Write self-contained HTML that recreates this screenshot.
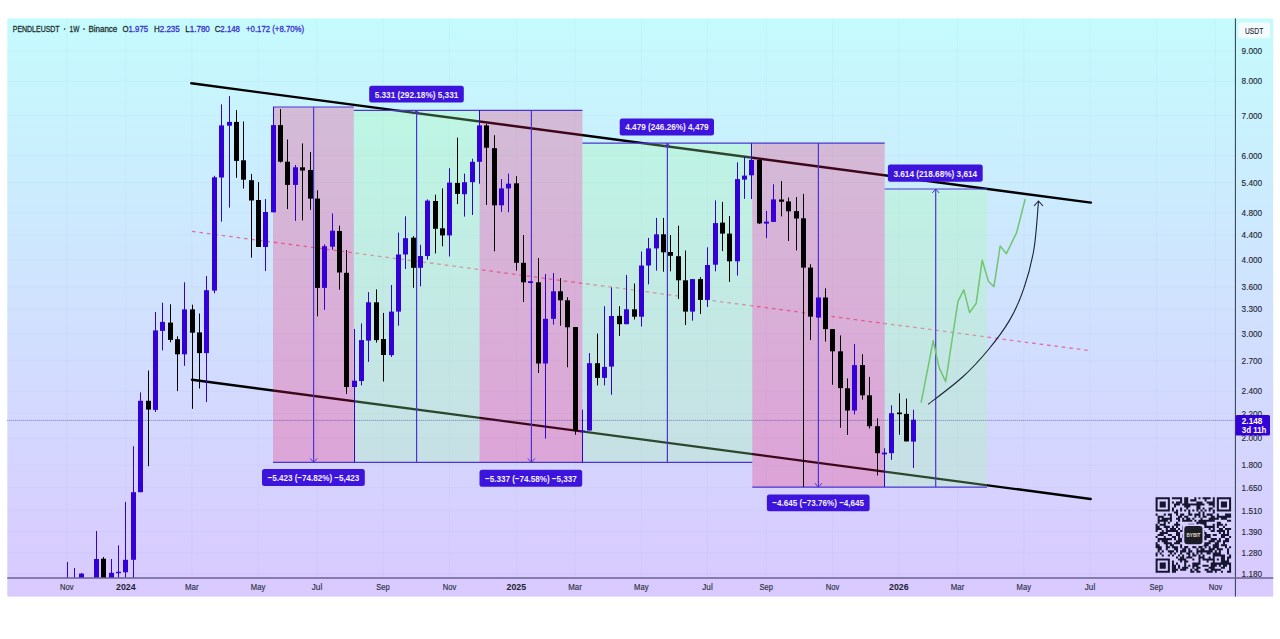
<!DOCTYPE html><html><head><meta charset="utf-8"><style>
html,body{margin:0;padding:0;background:#fff;width:1280px;height:639px;overflow:hidden}
svg{position:absolute;left:0;top:0;display:block}
text{font-family:"Liberation Sans",sans-serif}
</style></head><body>
<svg width="1280" height="639" viewBox="0 0 1280 639">
<defs><linearGradient id="bg" gradientUnits="userSpaceOnUse" x1="0" y1="18" x2="0" y2="597"><stop offset="0" stop-color="rgb(197,251,253)"/><stop offset="0.49" stop-color="rgb(208,226,254)"/><stop offset="1" stop-color="rgb(217,201,255)"/></linearGradient></defs>
<rect x="7.3" y="18.4" width="1265.9" height="578.2" fill="url(#bg)"/>
<path d="M66.8 18.4V578.0M125.8 18.4V578.0M191.8 18.4V578.0M258.0 18.4V578.0M317.0 18.4V578.0M383.0 18.4V578.0M449.5 18.4V578.0M516.3 18.4V578.0M575.0 18.4V578.0M641.3 18.4V578.0M707.5 18.4V578.0M766.3 18.4V578.0M832.5 18.4V578.0M898.8 18.4V578.0M957.5 18.4V578.0M1023.8 18.4V578.0M1090.0 18.4V578.0M1156.3 18.4V578.0M1215.5 18.4V578.0M7.3 51.0H1235.4M7.3 81.3H1235.4M7.3 115.7H1235.4M7.3 155.4H1235.4M7.3 182.5H1235.4M7.3 212.8H1235.4M7.3 235.2H1235.4M7.3 259.7H1235.4M7.3 286.9H1235.4M7.3 309.2H1235.4M7.3 333.8H1235.4M7.3 360.9H1235.4M7.3 391.2H1235.4M7.3 413.6H1235.4M7.3 438.1H1235.4M7.3 465.3H1235.4M7.3 487.7H1235.4M7.3 510.5H1235.4M7.3 531.8H1235.4M7.3 553.0H1235.4M7.3 574.0H1235.4" stroke="rgba(60,80,140,0.035)" stroke-width="1" fill="none"/>
<g stroke="#000" stroke-width="2.4" stroke-linecap="round">
<line x1="191.3" y1="83.3" x2="1090.9" y2="202.6"/>
<line x1="192" y1="379.7" x2="1090.7" y2="499"/>
</g>
<line x1="192" y1="231.4" x2="1090.5" y2="350.8" stroke="#e2729c" stroke-width="1.3" stroke-dasharray="3.6 3.9"/>
<rect x="273.0" y="107.0" width="80.8" height="355.4" fill="rgba(243,22,100,0.25)"/>
<rect x="353.8" y="110.3" width="125.8" height="352.1" fill="rgba(160,255,160,0.28)"/>
<rect x="479.6" y="110.3" width="102.8" height="352.1" fill="rgba(243,22,100,0.25)"/>
<rect x="582.4" y="143.1" width="169.9" height="319.3" fill="rgba(160,255,160,0.28)"/>
<rect x="752.3" y="143.1" width="132.4" height="344.1" fill="rgba(243,22,100,0.25)"/>
<rect x="884.7" y="189.0" width="102.3" height="298.2" fill="rgba(160,255,160,0.28)"/>
<path d="M273.0 107.0H353.8M273.0 462.4H353.8M313.6 107.0V462.4M353.8 110.3H479.6M353.8 462.4H479.6M416.6 110.3V462.4M479.6 110.3H582.4M479.6 462.4H582.4M531.4 110.3V462.4M582.4 143.1H752.3M582.4 462.4H752.3M667.4 143.1V462.4M752.3 143.1H884.7M752.3 487.2H884.7M818.4 143.1V487.2M884.7 189.0H987.0M884.7 487.2H987.0M935.7 189.0V487.2" stroke="#4c34d4" stroke-width="1.2" fill="none"/>
<path d="M310.1 458.4L313.6 462.4L317.1 458.4M413.1 114.3L416.6 110.3L420.1 114.3M527.9 458.4L531.4 462.4L534.9 458.4M663.9 147.1L667.4 143.1L670.9 147.1M814.9 483.2L818.4 487.2L821.9 483.2M932.2 193.0L935.7 189.0L939.2 193.0" stroke="#4c34d4" stroke-width="1" fill="none"/>
<line x1="7.3" y1="420.4" x2="1235.4" y2="420.4" stroke="rgba(60,55,150,0.6)" stroke-width="1" stroke-dasharray="1 1"/>
<rect x="67" y="562.0" width="1" height="16.0" fill="#3300d6"/>
<rect x="74" y="568.0" width="1" height="10.0" fill="#3300d6"/>
<rect x="81" y="573.0" width="1" height="5.0" fill="#3300d6"/>
<rect x="79" y="573.6" width="5" height="4.4" fill="#3300d6"/>
<rect x="96" y="531.0" width="1" height="47.0" fill="#3300d6"/>
<rect x="94" y="559.0" width="5" height="19.0" fill="#3300d6"/>
<rect x="103" y="557.0" width="1" height="21.0" fill="#000000"/>
<rect x="101" y="558.7" width="5" height="19.3" fill="#000000"/>
<rect x="111" y="559.0" width="1" height="19.0" fill="#3300d6"/>
<rect x="109" y="572.8" width="5" height="5.2" fill="#3300d6"/>
<rect x="118" y="545.4" width="1" height="32.6" fill="#3300d6"/>
<rect x="116" y="571.8" width="5" height="1.4" fill="#3300d6"/>
<rect x="125" y="501.9" width="1" height="76.1" fill="#3300d6"/>
<rect x="123" y="559.8" width="5" height="12.5" fill="#3300d6"/>
<rect x="133" y="446.2" width="1" height="131.8" fill="#3300d6"/>
<rect x="131" y="492.2" width="5" height="67.6" fill="#3300d6"/>
<rect x="140" y="392.4" width="1" height="99.8" fill="#3300d6"/>
<rect x="138" y="400.8" width="5" height="91.4" fill="#3300d6"/>
<rect x="148" y="370.5" width="1" height="95.7" fill="#000000"/>
<rect x="146" y="400.8" width="5" height="8.8" fill="#000000"/>
<rect x="155" y="312.0" width="1" height="100.0" fill="#3300d6"/>
<rect x="153" y="330.4" width="5" height="79.5" fill="#3300d6"/>
<rect x="162" y="302.7" width="1" height="47.7" fill="#3300d6"/>
<rect x="160" y="321.9" width="5" height="9.0" fill="#3300d6"/>
<rect x="170" y="304.3" width="1" height="38.0" fill="#000000"/>
<rect x="168" y="322.6" width="5" height="17.3" fill="#000000"/>
<rect x="177" y="336.3" width="1" height="54.8" fill="#000000"/>
<rect x="175" y="339.2" width="5" height="15.1" fill="#000000"/>
<rect x="184" y="282.3" width="1" height="83.5" fill="#3300d6"/>
<rect x="182" y="309.4" width="5" height="44.9" fill="#3300d6"/>
<rect x="192" y="304.7" width="1" height="104.1" fill="#000000"/>
<rect x="190" y="309.4" width="5" height="23.3" fill="#000000"/>
<rect x="199" y="313.6" width="1" height="74.9" fill="#000000"/>
<rect x="197" y="332.4" width="5" height="20.7" fill="#000000"/>
<rect x="206" y="276.0" width="1" height="126.0" fill="#3300d6"/>
<rect x="204" y="290.2" width="5" height="62.9" fill="#3300d6"/>
<rect x="214" y="175.8" width="1" height="117.5" fill="#3300d6"/>
<rect x="212" y="177.3" width="5" height="113.3" fill="#3300d6"/>
<rect x="221" y="104.3" width="1" height="117.3" fill="#3300d6"/>
<rect x="219" y="125.4" width="5" height="52.1" fill="#3300d6"/>
<rect x="229" y="96.1" width="1" height="111.5" fill="#3300d6"/>
<rect x="227" y="121.9" width="5" height="3.8" fill="#3300d6"/>
<rect x="236" y="110.0" width="1" height="67.8" fill="#000000"/>
<rect x="234" y="121.9" width="5" height="39.0" fill="#000000"/>
<rect x="243" y="121.5" width="1" height="67.0" fill="#000000"/>
<rect x="241" y="160.3" width="5" height="19.4" fill="#000000"/>
<rect x="251" y="173.9" width="1" height="83.7" fill="#000000"/>
<rect x="249" y="180.2" width="5" height="20.3" fill="#000000"/>
<rect x="258" y="182.2" width="1" height="64.8" fill="#000000"/>
<rect x="256" y="200.0" width="5" height="47.0" fill="#000000"/>
<rect x="265" y="199.0" width="1" height="72.0" fill="#3300d6"/>
<rect x="263" y="212.0" width="5" height="35.0" fill="#3300d6"/>
<rect x="273" y="107.0" width="1" height="105.3" fill="#3300d6"/>
<rect x="271" y="125.1" width="5" height="87.2" fill="#3300d6"/>
<rect x="280" y="109.0" width="1" height="53.5" fill="#000000"/>
<rect x="278" y="125.1" width="5" height="36.6" fill="#000000"/>
<rect x="287" y="139.5" width="1" height="69.6" fill="#000000"/>
<rect x="285" y="161.7" width="5" height="23.2" fill="#000000"/>
<rect x="295" y="165.0" width="1" height="55.9" fill="#3300d6"/>
<rect x="293" y="167.3" width="5" height="17.6" fill="#3300d6"/>
<rect x="302" y="143.4" width="1" height="77.0" fill="#000000"/>
<rect x="300" y="167.3" width="5" height="3.2" fill="#000000"/>
<rect x="310" y="152.0" width="1" height="57.9" fill="#000000"/>
<rect x="308" y="170.0" width="5" height="28.6" fill="#000000"/>
<rect x="317" y="190.3" width="1" height="126.0" fill="#000000"/>
<rect x="315" y="198.6" width="5" height="89.3" fill="#000000"/>
<rect x="324" y="244.3" width="1" height="65.5" fill="#3300d6"/>
<rect x="322" y="246.2" width="5" height="41.7" fill="#3300d6"/>
<rect x="332" y="213.5" width="1" height="36.3" fill="#3300d6"/>
<rect x="330" y="230.7" width="5" height="16.0" fill="#3300d6"/>
<rect x="339" y="225.6" width="1" height="64.1" fill="#000000"/>
<rect x="337" y="231.0" width="5" height="41.5" fill="#000000"/>
<rect x="346" y="250.1" width="1" height="143.9" fill="#000000"/>
<rect x="344" y="272.8" width="5" height="114.2" fill="#000000"/>
<rect x="354" y="328.9" width="1" height="133.5" fill="#3300d6"/>
<rect x="352" y="380.7" width="5" height="6.3" fill="#3300d6"/>
<rect x="361" y="323.4" width="1" height="62.0" fill="#3300d6"/>
<rect x="359" y="340.1" width="5" height="40.9" fill="#3300d6"/>
<rect x="368" y="292.1" width="1" height="69.8" fill="#3300d6"/>
<rect x="366" y="302.3" width="5" height="38.3" fill="#3300d6"/>
<rect x="376" y="289.4" width="1" height="53.2" fill="#000000"/>
<rect x="374" y="302.3" width="5" height="37.8" fill="#000000"/>
<rect x="383" y="312.9" width="1" height="68.6" fill="#000000"/>
<rect x="381" y="339.0" width="5" height="16.0" fill="#000000"/>
<rect x="391" y="285.0" width="1" height="72.0" fill="#3300d6"/>
<rect x="389" y="311.6" width="5" height="43.5" fill="#3300d6"/>
<rect x="398" y="232.6" width="1" height="93.1" fill="#3300d6"/>
<rect x="396" y="254.5" width="5" height="57.1" fill="#3300d6"/>
<rect x="405" y="216.3" width="1" height="52.7" fill="#3300d6"/>
<rect x="403" y="238.2" width="5" height="16.3" fill="#3300d6"/>
<rect x="413" y="236.2" width="1" height="51.6" fill="#000000"/>
<rect x="411" y="237.7" width="5" height="30.1" fill="#000000"/>
<rect x="420" y="244.8" width="1" height="41.5" fill="#3300d6"/>
<rect x="418" y="256.0" width="5" height="11.8" fill="#3300d6"/>
<rect x="427" y="199.4" width="1" height="60.2" fill="#3300d6"/>
<rect x="425" y="200.6" width="5" height="55.4" fill="#3300d6"/>
<rect x="435" y="194.7" width="1" height="58.7" fill="#000000"/>
<rect x="433" y="201.0" width="5" height="27.8" fill="#000000"/>
<rect x="442" y="188.4" width="1" height="57.9" fill="#000000"/>
<rect x="440" y="228.3" width="5" height="7.1" fill="#000000"/>
<rect x="449" y="168.1" width="1" height="88.4" fill="#3300d6"/>
<rect x="447" y="182.6" width="5" height="52.8" fill="#3300d6"/>
<rect x="457" y="137.6" width="1" height="66.5" fill="#000000"/>
<rect x="455" y="182.9" width="5" height="11.0" fill="#000000"/>
<rect x="464" y="173.6" width="1" height="43.0" fill="#3300d6"/>
<rect x="462" y="182.2" width="5" height="12.0" fill="#3300d6"/>
<rect x="472" y="158.7" width="1" height="56.3" fill="#3300d6"/>
<rect x="470" y="161.8" width="5" height="20.4" fill="#3300d6"/>
<rect x="479" y="110.3" width="1" height="73.4" fill="#3300d6"/>
<rect x="477" y="125.4" width="5" height="36.4" fill="#3300d6"/>
<rect x="486" y="124.0" width="1" height="80.9" fill="#000000"/>
<rect x="484" y="125.4" width="5" height="22.3" fill="#000000"/>
<rect x="494" y="135.2" width="1" height="116.1" fill="#000000"/>
<rect x="492" y="148.2" width="5" height="57.1" fill="#000000"/>
<rect x="501" y="179.0" width="1" height="32.9" fill="#3300d6"/>
<rect x="499" y="188.4" width="5" height="16.9" fill="#3300d6"/>
<rect x="508" y="173.6" width="1" height="38.6" fill="#3300d6"/>
<rect x="506" y="183.7" width="5" height="4.7" fill="#3300d6"/>
<rect x="516" y="176.2" width="1" height="94.4" fill="#000000"/>
<rect x="514" y="183.3" width="5" height="79.5" fill="#000000"/>
<rect x="523" y="235.1" width="1" height="66.8" fill="#000000"/>
<rect x="521" y="262.8" width="5" height="19.5" fill="#000000"/>
<rect x="530" y="281.3" width="1" height="1.7" fill="#3300d6"/>
<rect x="528" y="281.3" width="5" height="1.7" fill="#3300d6"/>
<rect x="538" y="258.1" width="1" height="114.8" fill="#000000"/>
<rect x="536" y="282.3" width="5" height="81.2" fill="#000000"/>
<rect x="545" y="274.0" width="1" height="164.6" fill="#3300d6"/>
<rect x="543" y="318.8" width="5" height="44.7" fill="#3300d6"/>
<rect x="553" y="273.0" width="1" height="51.6" fill="#3300d6"/>
<rect x="551" y="291.3" width="5" height="27.5" fill="#3300d6"/>
<rect x="560" y="278.0" width="1" height="47.7" fill="#000000"/>
<rect x="558" y="291.3" width="5" height="9.0" fill="#000000"/>
<rect x="567" y="297.2" width="1" height="70.1" fill="#000000"/>
<rect x="565" y="300.3" width="5" height="27.0" fill="#000000"/>
<rect x="575" y="327.0" width="1" height="107.7" fill="#000000"/>
<rect x="573" y="327.0" width="5" height="103.5" fill="#000000"/>
<rect x="582" y="409.6" width="1" height="53.0" fill="#3300d6"/>
<rect x="580" y="430.6" width="5" height="1.4" fill="#3300d6"/>
<rect x="589" y="353.1" width="1" height="77.4" fill="#3300d6"/>
<rect x="587" y="363.2" width="5" height="67.3" fill="#3300d6"/>
<rect x="597" y="333.6" width="1" height="51.8" fill="#000000"/>
<rect x="595" y="363.2" width="5" height="14.7" fill="#000000"/>
<rect x="604" y="306.2" width="1" height="79.2" fill="#3300d6"/>
<rect x="602" y="366.9" width="5" height="11.0" fill="#3300d6"/>
<rect x="611" y="287.4" width="1" height="107.4" fill="#3300d6"/>
<rect x="609" y="316.0" width="5" height="50.6" fill="#3300d6"/>
<rect x="619" y="306.2" width="1" height="29.7" fill="#000000"/>
<rect x="617" y="315.9" width="5" height="8.3" fill="#000000"/>
<rect x="626" y="274.9" width="1" height="49.3" fill="#3300d6"/>
<rect x="624" y="309.3" width="5" height="14.9" fill="#3300d6"/>
<rect x="634" y="283.5" width="1" height="36.0" fill="#000000"/>
<rect x="632" y="309.3" width="5" height="7.4" fill="#000000"/>
<rect x="641" y="251.5" width="1" height="75.0" fill="#3300d6"/>
<rect x="639" y="265.5" width="5" height="51.2" fill="#3300d6"/>
<rect x="648" y="237.9" width="1" height="46.4" fill="#3300d6"/>
<rect x="646" y="248.4" width="5" height="17.1" fill="#3300d6"/>
<rect x="656" y="217.9" width="1" height="52.7" fill="#3300d6"/>
<rect x="654" y="234.3" width="5" height="14.1" fill="#3300d6"/>
<rect x="663" y="217.9" width="1" height="53.8" fill="#000000"/>
<rect x="661" y="234.3" width="5" height="18.0" fill="#000000"/>
<rect x="670" y="235.1" width="1" height="36.2" fill="#000000"/>
<rect x="668" y="252.0" width="5" height="3.8" fill="#000000"/>
<rect x="678" y="225.7" width="1" height="73.4" fill="#000000"/>
<rect x="676" y="256.2" width="5" height="24.1" fill="#000000"/>
<rect x="685" y="250.5" width="1" height="74.5" fill="#000000"/>
<rect x="683" y="280.3" width="5" height="31.3" fill="#000000"/>
<rect x="692" y="279.1" width="1" height="41.6" fill="#3300d6"/>
<rect x="690" y="279.1" width="5" height="32.5" fill="#3300d6"/>
<rect x="700" y="277.2" width="1" height="36.8" fill="#000000"/>
<rect x="698" y="279.1" width="5" height="20.8" fill="#000000"/>
<rect x="707" y="247.3" width="1" height="59.7" fill="#3300d6"/>
<rect x="705" y="265.0" width="5" height="34.9" fill="#3300d6"/>
<rect x="715" y="200.4" width="1" height="70.9" fill="#3300d6"/>
<rect x="713" y="223.1" width="5" height="41.6" fill="#3300d6"/>
<rect x="722" y="201.9" width="1" height="49.2" fill="#000000"/>
<rect x="720" y="222.6" width="5" height="11.0" fill="#000000"/>
<rect x="729" y="216.0" width="1" height="65.9" fill="#000000"/>
<rect x="727" y="233.6" width="5" height="27.7" fill="#000000"/>
<rect x="737" y="162.3" width="1" height="113.3" fill="#3300d6"/>
<rect x="735" y="179.1" width="5" height="82.2" fill="#3300d6"/>
<rect x="744" y="156.8" width="1" height="42.0" fill="#3300d6"/>
<rect x="742" y="175.6" width="5" height="4.0" fill="#3300d6"/>
<rect x="751" y="143.1" width="1" height="56.0" fill="#3300d6"/>
<rect x="749" y="159.9" width="5" height="15.4" fill="#3300d6"/>
<rect x="759" y="159.0" width="1" height="65.0" fill="#000000"/>
<rect x="757" y="159.9" width="5" height="63.5" fill="#000000"/>
<rect x="766" y="210.9" width="1" height="27.3" fill="#3300d6"/>
<rect x="764" y="221.6" width="5" height="2.0" fill="#3300d6"/>
<rect x="773" y="184.2" width="1" height="37.7" fill="#3300d6"/>
<rect x="771" y="199.4" width="5" height="22.5" fill="#3300d6"/>
<rect x="781" y="181.0" width="1" height="35.4" fill="#000000"/>
<rect x="779" y="199.5" width="5" height="2.2" fill="#000000"/>
<rect x="788" y="197.5" width="1" height="43.5" fill="#000000"/>
<rect x="786" y="201.4" width="5" height="9.9" fill="#000000"/>
<rect x="796" y="197.0" width="1" height="53.4" fill="#000000"/>
<rect x="794" y="211.1" width="5" height="7.4" fill="#000000"/>
<rect x="803" y="193.9" width="1" height="293.1" fill="#000000"/>
<rect x="801" y="218.3" width="5" height="49.3" fill="#000000"/>
<rect x="810" y="264.2" width="1" height="75.9" fill="#000000"/>
<rect x="808" y="267.6" width="5" height="49.0" fill="#000000"/>
<rect x="818" y="297.5" width="1" height="20.1" fill="#3300d6"/>
<rect x="816" y="297.5" width="5" height="20.1" fill="#3300d6"/>
<rect x="825" y="288.4" width="1" height="53.2" fill="#000000"/>
<rect x="823" y="297.5" width="5" height="31.6" fill="#000000"/>
<rect x="832" y="329.0" width="1" height="55.7" fill="#000000"/>
<rect x="830" y="329.1" width="5" height="22.2" fill="#000000"/>
<rect x="840" y="335.4" width="1" height="92.3" fill="#000000"/>
<rect x="838" y="351.3" width="5" height="36.8" fill="#000000"/>
<rect x="847" y="378.4" width="1" height="56.4" fill="#000000"/>
<rect x="845" y="388.3" width="5" height="22.2" fill="#000000"/>
<rect x="854" y="344.0" width="1" height="70.4" fill="#3300d6"/>
<rect x="852" y="365.1" width="5" height="45.4" fill="#3300d6"/>
<rect x="862" y="354.2" width="1" height="45.4" fill="#000000"/>
<rect x="860" y="365.1" width="5" height="30.2" fill="#000000"/>
<rect x="869" y="376.9" width="1" height="51.6" fill="#000000"/>
<rect x="867" y="395.3" width="5" height="30.9" fill="#000000"/>
<rect x="877" y="418.3" width="1" height="57.2" fill="#000000"/>
<rect x="875" y="426.2" width="5" height="27.0" fill="#000000"/>
<rect x="884" y="448.2" width="1" height="38.8" fill="#3300d6"/>
<rect x="882" y="452.6" width="5" height="1.8" fill="#3300d6"/>
<rect x="891" y="405.2" width="1" height="54.7" fill="#3300d6"/>
<rect x="889" y="413.2" width="5" height="40.0" fill="#3300d6"/>
<rect x="899" y="393.3" width="1" height="41.4" fill="#000000"/>
<rect x="897" y="412.5" width="5" height="1.7" fill="#000000"/>
<rect x="906" y="398.6" width="1" height="42.8" fill="#000000"/>
<rect x="904" y="413.9" width="5" height="27.5" fill="#000000"/>
<rect x="913" y="409.8" width="1" height="58.2" fill="#3300d6"/>
<rect x="911" y="419.7" width="5" height="21.9" fill="#3300d6"/>
<polyline points="921.1,402.8 933.2,340.6 939.1,367.6 945.7,381.6 957.9,301.6 963.8,289.9 969.6,312.6 976.2,303.2 982.2,260.2 988.4,281.3 993.9,286.8 1000.2,245.9 1006.4,253.7 1016.6,232.6 1025.2,199" fill="none" stroke="#70c670" stroke-width="1.5" stroke-linejoin="round"/>
<path d="M928.2 404.3C933.9 399.8 952.6 386.1 962.6 377C972.6 367.9 980.7 358.9 988.5 349.5C996.3 340.1 1003.6 330.5 1009.5 320.4C1015.4 310.3 1019.6 300.8 1023.6 289.1C1027.7 277.4 1031.3 264.6 1033.8 250C1036.3 235.4 1037.7 209.6 1038.5 201.5" fill="none" stroke="#1a2233" stroke-width="1.1"/>
<path d="M1034 206L1038.5 201L1043 206" fill="none" stroke="#1a2233" stroke-width="1.1"/>
<rect x="262.0" y="469.1" width="102.8" height="17.0" rx="2.5" fill="#3c14dc"/>
<text x="313.4" y="481.0" text-anchor="middle" font-size="9.6" font-weight="bold" fill="#f4efff" textLength="91.8" lengthAdjust="spacingAndGlyphs">−5.423 (−74.82%) −5,423</text>
<rect x="369.2" y="85.8" width="94.6" height="16.7" rx="2.5" fill="#3c14dc"/>
<text x="416.5" y="97.6" text-anchor="middle" font-size="9.6" font-weight="bold" fill="#f4efff" textLength="83.6" lengthAdjust="spacingAndGlyphs">5.331 (292.18%) 5,331</text>
<rect x="479.5" y="469.7" width="102.7" height="17.0" rx="2.5" fill="#3c14dc"/>
<text x="530.9" y="481.6" text-anchor="middle" font-size="9.6" font-weight="bold" fill="#f4efff" textLength="91.7" lengthAdjust="spacingAndGlyphs">−5.337 (−74.58%) −5,337</text>
<rect x="619.7" y="118.4" width="94.3" height="17.1" rx="2.5" fill="#3c14dc"/>
<text x="666.9" y="130.3" text-anchor="middle" font-size="9.6" font-weight="bold" fill="#f4efff" textLength="83.3" lengthAdjust="spacingAndGlyphs">4.479 (246.26%) 4,479</text>
<rect x="766.9" y="494.5" width="102.7" height="16.7" rx="2.5" fill="#3c14dc"/>
<text x="818.2" y="506.2" text-anchor="middle" font-size="9.6" font-weight="bold" fill="#f4efff" textLength="91.7" lengthAdjust="spacingAndGlyphs">−4.645 (−73.76%) −4,645</text>
<rect x="887.9" y="164.5" width="94.8" height="17.3" rx="2.5" fill="#3c14dc"/>
<text x="935.3" y="176.6" text-anchor="middle" font-size="9.6" font-weight="bold" fill="#f4efff" textLength="83.8" lengthAdjust="spacingAndGlyphs">3.614 (218.68%) 3,614</text>
<path d="M1155.60 497.30h2.04v2.04h-2.04zM1157.64 497.30h2.04v2.04h-2.04zM1159.68 497.30h2.04v2.04h-2.04zM1161.72 497.30h2.04v2.04h-2.04zM1163.76 497.30h2.04v2.04h-2.04zM1165.80 497.30h2.04v2.04h-2.04zM1167.84 497.30h2.04v2.04h-2.04zM1171.92 497.30h2.04v2.04h-2.04zM1173.96 497.30h2.04v2.04h-2.04zM1176.01 497.30h2.04v2.04h-2.04zM1178.05 497.30h2.04v2.04h-2.04zM1180.09 497.30h2.04v2.04h-2.04zM1184.17 497.30h2.04v2.04h-2.04zM1186.21 497.30h2.04v2.04h-2.04zM1194.37 497.30h2.04v2.04h-2.04zM1198.45 497.30h2.04v2.04h-2.04zM1202.53 497.30h2.04v2.04h-2.04zM1204.57 497.30h2.04v2.04h-2.04zM1206.61 497.30h2.04v2.04h-2.04zM1208.65 497.30h2.04v2.04h-2.04zM1212.74 497.30h2.04v2.04h-2.04zM1216.82 497.30h2.04v2.04h-2.04zM1218.86 497.30h2.04v2.04h-2.04zM1220.90 497.30h2.04v2.04h-2.04zM1222.94 497.30h2.04v2.04h-2.04zM1224.98 497.30h2.04v2.04h-2.04zM1227.02 497.30h2.04v2.04h-2.04zM1229.06 497.30h2.04v2.04h-2.04zM1155.60 499.34h2.04v2.04h-2.04zM1167.84 499.34h2.04v2.04h-2.04zM1180.09 499.34h2.04v2.04h-2.04zM1184.17 499.34h2.04v2.04h-2.04zM1186.21 499.34h2.04v2.04h-2.04zM1190.29 499.34h2.04v2.04h-2.04zM1192.33 499.34h2.04v2.04h-2.04zM1194.37 499.34h2.04v2.04h-2.04zM1204.57 499.34h2.04v2.04h-2.04zM1212.74 499.34h2.04v2.04h-2.04zM1216.82 499.34h2.04v2.04h-2.04zM1229.06 499.34h2.04v2.04h-2.04zM1155.60 501.38h2.04v2.04h-2.04zM1159.68 501.38h2.04v2.04h-2.04zM1161.72 501.38h2.04v2.04h-2.04zM1163.76 501.38h2.04v2.04h-2.04zM1167.84 501.38h2.04v2.04h-2.04zM1171.92 501.38h2.04v2.04h-2.04zM1176.01 501.38h2.04v2.04h-2.04zM1178.05 501.38h2.04v2.04h-2.04zM1180.09 501.38h2.04v2.04h-2.04zM1184.17 501.38h2.04v2.04h-2.04zM1186.21 501.38h2.04v2.04h-2.04zM1196.41 501.38h2.04v2.04h-2.04zM1198.45 501.38h2.04v2.04h-2.04zM1200.49 501.38h2.04v2.04h-2.04zM1206.61 501.38h2.04v2.04h-2.04zM1208.65 501.38h2.04v2.04h-2.04zM1210.69 501.38h2.04v2.04h-2.04zM1212.74 501.38h2.04v2.04h-2.04zM1216.82 501.38h2.04v2.04h-2.04zM1220.90 501.38h2.04v2.04h-2.04zM1222.94 501.38h2.04v2.04h-2.04zM1224.98 501.38h2.04v2.04h-2.04zM1229.06 501.38h2.04v2.04h-2.04zM1155.60 503.42h2.04v2.04h-2.04zM1159.68 503.42h2.04v2.04h-2.04zM1161.72 503.42h2.04v2.04h-2.04zM1163.76 503.42h2.04v2.04h-2.04zM1167.84 503.42h2.04v2.04h-2.04zM1173.96 503.42h2.04v2.04h-2.04zM1176.01 503.42h2.04v2.04h-2.04zM1178.05 503.42h2.04v2.04h-2.04zM1182.13 503.42h2.04v2.04h-2.04zM1184.17 503.42h2.04v2.04h-2.04zM1186.21 503.42h2.04v2.04h-2.04zM1188.25 503.42h2.04v2.04h-2.04zM1190.29 503.42h2.04v2.04h-2.04zM1192.33 503.42h2.04v2.04h-2.04zM1194.37 503.42h2.04v2.04h-2.04zM1196.41 503.42h2.04v2.04h-2.04zM1198.45 503.42h2.04v2.04h-2.04zM1200.49 503.42h2.04v2.04h-2.04zM1202.53 503.42h2.04v2.04h-2.04zM1208.65 503.42h2.04v2.04h-2.04zM1210.69 503.42h2.04v2.04h-2.04zM1212.74 503.42h2.04v2.04h-2.04zM1216.82 503.42h2.04v2.04h-2.04zM1220.90 503.42h2.04v2.04h-2.04zM1222.94 503.42h2.04v2.04h-2.04zM1224.98 503.42h2.04v2.04h-2.04zM1229.06 503.42h2.04v2.04h-2.04zM1155.60 505.46h2.04v2.04h-2.04zM1159.68 505.46h2.04v2.04h-2.04zM1161.72 505.46h2.04v2.04h-2.04zM1163.76 505.46h2.04v2.04h-2.04zM1167.84 505.46h2.04v2.04h-2.04zM1173.96 505.46h2.04v2.04h-2.04zM1184.17 505.46h2.04v2.04h-2.04zM1186.21 505.46h2.04v2.04h-2.04zM1188.25 505.46h2.04v2.04h-2.04zM1196.41 505.46h2.04v2.04h-2.04zM1198.45 505.46h2.04v2.04h-2.04zM1212.74 505.46h2.04v2.04h-2.04zM1216.82 505.46h2.04v2.04h-2.04zM1220.90 505.46h2.04v2.04h-2.04zM1222.94 505.46h2.04v2.04h-2.04zM1224.98 505.46h2.04v2.04h-2.04zM1229.06 505.46h2.04v2.04h-2.04zM1155.60 507.50h2.04v2.04h-2.04zM1167.84 507.50h2.04v2.04h-2.04zM1171.92 507.50h2.04v2.04h-2.04zM1180.09 507.50h2.04v2.04h-2.04zM1186.21 507.50h2.04v2.04h-2.04zM1196.41 507.50h2.04v2.04h-2.04zM1198.45 507.50h2.04v2.04h-2.04zM1202.53 507.50h2.04v2.04h-2.04zM1208.65 507.50h2.04v2.04h-2.04zM1210.69 507.50h2.04v2.04h-2.04zM1216.82 507.50h2.04v2.04h-2.04zM1229.06 507.50h2.04v2.04h-2.04zM1155.60 509.54h2.04v2.04h-2.04zM1157.64 509.54h2.04v2.04h-2.04zM1159.68 509.54h2.04v2.04h-2.04zM1161.72 509.54h2.04v2.04h-2.04zM1163.76 509.54h2.04v2.04h-2.04zM1165.80 509.54h2.04v2.04h-2.04zM1167.84 509.54h2.04v2.04h-2.04zM1171.92 509.54h2.04v2.04h-2.04zM1176.01 509.54h2.04v2.04h-2.04zM1180.09 509.54h2.04v2.04h-2.04zM1184.17 509.54h2.04v2.04h-2.04zM1188.25 509.54h2.04v2.04h-2.04zM1192.33 509.54h2.04v2.04h-2.04zM1196.41 509.54h2.04v2.04h-2.04zM1200.49 509.54h2.04v2.04h-2.04zM1204.57 509.54h2.04v2.04h-2.04zM1208.65 509.54h2.04v2.04h-2.04zM1212.74 509.54h2.04v2.04h-2.04zM1216.82 509.54h2.04v2.04h-2.04zM1218.86 509.54h2.04v2.04h-2.04zM1220.90 509.54h2.04v2.04h-2.04zM1222.94 509.54h2.04v2.04h-2.04zM1224.98 509.54h2.04v2.04h-2.04zM1227.02 509.54h2.04v2.04h-2.04zM1229.06 509.54h2.04v2.04h-2.04zM1173.96 511.58h2.04v2.04h-2.04zM1176.01 511.58h2.04v2.04h-2.04zM1188.25 511.58h2.04v2.04h-2.04zM1198.45 511.58h2.04v2.04h-2.04zM1202.53 511.58h2.04v2.04h-2.04zM1212.74 511.58h2.04v2.04h-2.04zM1155.60 513.62h2.04v2.04h-2.04zM1163.76 513.62h2.04v2.04h-2.04zM1167.84 513.62h2.04v2.04h-2.04zM1169.88 513.62h2.04v2.04h-2.04zM1176.01 513.62h2.04v2.04h-2.04zM1180.09 513.62h2.04v2.04h-2.04zM1182.13 513.62h2.04v2.04h-2.04zM1188.25 513.62h2.04v2.04h-2.04zM1190.29 513.62h2.04v2.04h-2.04zM1194.37 513.62h2.04v2.04h-2.04zM1196.41 513.62h2.04v2.04h-2.04zM1198.45 513.62h2.04v2.04h-2.04zM1202.53 513.62h2.04v2.04h-2.04zM1206.61 513.62h2.04v2.04h-2.04zM1208.65 513.62h2.04v2.04h-2.04zM1210.69 513.62h2.04v2.04h-2.04zM1216.82 513.62h2.04v2.04h-2.04zM1224.98 513.62h2.04v2.04h-2.04zM1227.02 513.62h2.04v2.04h-2.04zM1229.06 513.62h2.04v2.04h-2.04zM1157.64 515.66h2.04v2.04h-2.04zM1159.68 515.66h2.04v2.04h-2.04zM1161.72 515.66h2.04v2.04h-2.04zM1169.88 515.66h2.04v2.04h-2.04zM1178.05 515.66h2.04v2.04h-2.04zM1180.09 515.66h2.04v2.04h-2.04zM1184.17 515.66h2.04v2.04h-2.04zM1186.21 515.66h2.04v2.04h-2.04zM1194.37 515.66h2.04v2.04h-2.04zM1198.45 515.66h2.04v2.04h-2.04zM1202.53 515.66h2.04v2.04h-2.04zM1204.57 515.66h2.04v2.04h-2.04zM1210.69 515.66h2.04v2.04h-2.04zM1212.74 515.66h2.04v2.04h-2.04zM1216.82 515.66h2.04v2.04h-2.04zM1218.86 515.66h2.04v2.04h-2.04zM1220.90 515.66h2.04v2.04h-2.04zM1222.94 515.66h2.04v2.04h-2.04zM1224.98 515.66h2.04v2.04h-2.04zM1227.02 515.66h2.04v2.04h-2.04zM1229.06 515.66h2.04v2.04h-2.04zM1157.64 517.71h2.04v2.04h-2.04zM1161.72 517.71h2.04v2.04h-2.04zM1163.76 517.71h2.04v2.04h-2.04zM1165.80 517.71h2.04v2.04h-2.04zM1167.84 517.71h2.04v2.04h-2.04zM1169.88 517.71h2.04v2.04h-2.04zM1176.01 517.71h2.04v2.04h-2.04zM1178.05 517.71h2.04v2.04h-2.04zM1182.13 517.71h2.04v2.04h-2.04zM1186.21 517.71h2.04v2.04h-2.04zM1188.25 517.71h2.04v2.04h-2.04zM1192.33 517.71h2.04v2.04h-2.04zM1200.49 517.71h2.04v2.04h-2.04zM1208.65 517.71h2.04v2.04h-2.04zM1210.69 517.71h2.04v2.04h-2.04zM1212.74 517.71h2.04v2.04h-2.04zM1214.78 517.71h2.04v2.04h-2.04zM1216.82 517.71h2.04v2.04h-2.04zM1220.90 517.71h2.04v2.04h-2.04zM1222.94 517.71h2.04v2.04h-2.04zM1224.98 517.71h2.04v2.04h-2.04zM1157.64 519.75h2.04v2.04h-2.04zM1159.68 519.75h2.04v2.04h-2.04zM1161.72 519.75h2.04v2.04h-2.04zM1163.76 519.75h2.04v2.04h-2.04zM1165.80 519.75h2.04v2.04h-2.04zM1169.88 519.75h2.04v2.04h-2.04zM1178.05 519.75h2.04v2.04h-2.04zM1182.13 519.75h2.04v2.04h-2.04zM1184.17 519.75h2.04v2.04h-2.04zM1186.21 519.75h2.04v2.04h-2.04zM1188.25 519.75h2.04v2.04h-2.04zM1190.29 519.75h2.04v2.04h-2.04zM1194.37 519.75h2.04v2.04h-2.04zM1198.45 519.75h2.04v2.04h-2.04zM1200.49 519.75h2.04v2.04h-2.04zM1202.53 519.75h2.04v2.04h-2.04zM1204.57 519.75h2.04v2.04h-2.04zM1206.61 519.75h2.04v2.04h-2.04zM1208.65 519.75h2.04v2.04h-2.04zM1210.69 519.75h2.04v2.04h-2.04zM1212.74 519.75h2.04v2.04h-2.04zM1227.02 519.75h2.04v2.04h-2.04zM1229.06 519.75h2.04v2.04h-2.04zM1157.64 521.79h2.04v2.04h-2.04zM1163.76 521.79h2.04v2.04h-2.04zM1167.84 521.79h2.04v2.04h-2.04zM1176.01 521.79h2.04v2.04h-2.04zM1196.41 521.79h2.04v2.04h-2.04zM1198.45 521.79h2.04v2.04h-2.04zM1200.49 521.79h2.04v2.04h-2.04zM1202.53 521.79h2.04v2.04h-2.04zM1204.57 521.79h2.04v2.04h-2.04zM1216.82 521.79h2.04v2.04h-2.04zM1218.86 521.79h2.04v2.04h-2.04zM1155.60 523.83h2.04v2.04h-2.04zM1159.68 523.83h2.04v2.04h-2.04zM1161.72 523.83h2.04v2.04h-2.04zM1163.76 523.83h2.04v2.04h-2.04zM1173.96 523.83h2.04v2.04h-2.04zM1176.01 523.83h2.04v2.04h-2.04zM1178.05 523.83h2.04v2.04h-2.04zM1188.25 523.83h2.04v2.04h-2.04zM1190.29 523.83h2.04v2.04h-2.04zM1192.33 523.83h2.04v2.04h-2.04zM1196.41 523.83h2.04v2.04h-2.04zM1200.49 523.83h2.04v2.04h-2.04zM1202.53 523.83h2.04v2.04h-2.04zM1204.57 523.83h2.04v2.04h-2.04zM1212.74 523.83h2.04v2.04h-2.04zM1216.82 523.83h2.04v2.04h-2.04zM1218.86 523.83h2.04v2.04h-2.04zM1220.90 523.83h2.04v2.04h-2.04zM1224.98 523.83h2.04v2.04h-2.04zM1155.60 525.87h2.04v2.04h-2.04zM1157.64 525.87h2.04v2.04h-2.04zM1163.76 525.87h2.04v2.04h-2.04zM1165.80 525.87h2.04v2.04h-2.04zM1167.84 525.87h2.04v2.04h-2.04zM1171.92 525.87h2.04v2.04h-2.04zM1176.01 525.87h2.04v2.04h-2.04zM1182.13 525.87h2.04v2.04h-2.04zM1192.33 525.87h2.04v2.04h-2.04zM1196.41 525.87h2.04v2.04h-2.04zM1198.45 525.87h2.04v2.04h-2.04zM1200.49 525.87h2.04v2.04h-2.04zM1202.53 525.87h2.04v2.04h-2.04zM1204.57 525.87h2.04v2.04h-2.04zM1206.61 525.87h2.04v2.04h-2.04zM1208.65 525.87h2.04v2.04h-2.04zM1210.69 525.87h2.04v2.04h-2.04zM1212.74 525.87h2.04v2.04h-2.04zM1216.82 525.87h2.04v2.04h-2.04zM1222.94 525.87h2.04v2.04h-2.04zM1155.60 527.91h2.04v2.04h-2.04zM1157.64 527.91h2.04v2.04h-2.04zM1159.68 527.91h2.04v2.04h-2.04zM1165.80 527.91h2.04v2.04h-2.04zM1169.88 527.91h2.04v2.04h-2.04zM1171.92 527.91h2.04v2.04h-2.04zM1173.96 527.91h2.04v2.04h-2.04zM1178.05 527.91h2.04v2.04h-2.04zM1182.13 527.91h2.04v2.04h-2.04zM1184.17 527.91h2.04v2.04h-2.04zM1188.25 527.91h2.04v2.04h-2.04zM1190.29 527.91h2.04v2.04h-2.04zM1208.65 527.91h2.04v2.04h-2.04zM1212.74 527.91h2.04v2.04h-2.04zM1218.86 527.91h2.04v2.04h-2.04zM1220.90 527.91h2.04v2.04h-2.04zM1224.98 527.91h2.04v2.04h-2.04zM1227.02 527.91h2.04v2.04h-2.04zM1229.06 527.91h2.04v2.04h-2.04zM1155.60 529.95h2.04v2.04h-2.04zM1161.72 529.95h2.04v2.04h-2.04zM1165.80 529.95h2.04v2.04h-2.04zM1167.84 529.95h2.04v2.04h-2.04zM1169.88 529.95h2.04v2.04h-2.04zM1171.92 529.95h2.04v2.04h-2.04zM1173.96 529.95h2.04v2.04h-2.04zM1176.01 529.95h2.04v2.04h-2.04zM1180.09 529.95h2.04v2.04h-2.04zM1182.13 529.95h2.04v2.04h-2.04zM1188.25 529.95h2.04v2.04h-2.04zM1190.29 529.95h2.04v2.04h-2.04zM1192.33 529.95h2.04v2.04h-2.04zM1194.37 529.95h2.04v2.04h-2.04zM1196.41 529.95h2.04v2.04h-2.04zM1198.45 529.95h2.04v2.04h-2.04zM1200.49 529.95h2.04v2.04h-2.04zM1202.53 529.95h2.04v2.04h-2.04zM1210.69 529.95h2.04v2.04h-2.04zM1212.74 529.95h2.04v2.04h-2.04zM1216.82 529.95h2.04v2.04h-2.04zM1218.86 529.95h2.04v2.04h-2.04zM1220.90 529.95h2.04v2.04h-2.04zM1222.94 529.95h2.04v2.04h-2.04zM1227.02 529.95h2.04v2.04h-2.04zM1159.68 531.99h2.04v2.04h-2.04zM1161.72 531.99h2.04v2.04h-2.04zM1163.76 531.99h2.04v2.04h-2.04zM1165.80 531.99h2.04v2.04h-2.04zM1176.01 531.99h2.04v2.04h-2.04zM1178.05 531.99h2.04v2.04h-2.04zM1184.17 531.99h2.04v2.04h-2.04zM1188.25 531.99h2.04v2.04h-2.04zM1190.29 531.99h2.04v2.04h-2.04zM1200.49 531.99h2.04v2.04h-2.04zM1202.53 531.99h2.04v2.04h-2.04zM1204.57 531.99h2.04v2.04h-2.04zM1218.86 531.99h2.04v2.04h-2.04zM1222.94 531.99h2.04v2.04h-2.04zM1227.02 531.99h2.04v2.04h-2.04zM1157.64 534.03h2.04v2.04h-2.04zM1159.68 534.03h2.04v2.04h-2.04zM1161.72 534.03h2.04v2.04h-2.04zM1167.84 534.03h2.04v2.04h-2.04zM1169.88 534.03h2.04v2.04h-2.04zM1176.01 534.03h2.04v2.04h-2.04zM1178.05 534.03h2.04v2.04h-2.04zM1182.13 534.03h2.04v2.04h-2.04zM1184.17 534.03h2.04v2.04h-2.04zM1186.21 534.03h2.04v2.04h-2.04zM1194.37 534.03h2.04v2.04h-2.04zM1196.41 534.03h2.04v2.04h-2.04zM1198.45 534.03h2.04v2.04h-2.04zM1204.57 534.03h2.04v2.04h-2.04zM1206.61 534.03h2.04v2.04h-2.04zM1208.65 534.03h2.04v2.04h-2.04zM1212.74 534.03h2.04v2.04h-2.04zM1214.78 534.03h2.04v2.04h-2.04zM1220.90 534.03h2.04v2.04h-2.04zM1222.94 534.03h2.04v2.04h-2.04zM1224.98 534.03h2.04v2.04h-2.04zM1227.02 534.03h2.04v2.04h-2.04zM1155.60 536.07h2.04v2.04h-2.04zM1163.76 536.07h2.04v2.04h-2.04zM1171.92 536.07h2.04v2.04h-2.04zM1173.96 536.07h2.04v2.04h-2.04zM1178.05 536.07h2.04v2.04h-2.04zM1182.13 536.07h2.04v2.04h-2.04zM1184.17 536.07h2.04v2.04h-2.04zM1186.21 536.07h2.04v2.04h-2.04zM1188.25 536.07h2.04v2.04h-2.04zM1194.37 536.07h2.04v2.04h-2.04zM1196.41 536.07h2.04v2.04h-2.04zM1198.45 536.07h2.04v2.04h-2.04zM1202.53 536.07h2.04v2.04h-2.04zM1204.57 536.07h2.04v2.04h-2.04zM1206.61 536.07h2.04v2.04h-2.04zM1208.65 536.07h2.04v2.04h-2.04zM1220.90 536.07h2.04v2.04h-2.04zM1222.94 536.07h2.04v2.04h-2.04zM1229.06 536.07h2.04v2.04h-2.04zM1157.64 538.11h2.04v2.04h-2.04zM1159.68 538.11h2.04v2.04h-2.04zM1161.72 538.11h2.04v2.04h-2.04zM1163.76 538.11h2.04v2.04h-2.04zM1165.80 538.11h2.04v2.04h-2.04zM1167.84 538.11h2.04v2.04h-2.04zM1169.88 538.11h2.04v2.04h-2.04zM1173.96 538.11h2.04v2.04h-2.04zM1178.05 538.11h2.04v2.04h-2.04zM1180.09 538.11h2.04v2.04h-2.04zM1186.21 538.11h2.04v2.04h-2.04zM1188.25 538.11h2.04v2.04h-2.04zM1190.29 538.11h2.04v2.04h-2.04zM1192.33 538.11h2.04v2.04h-2.04zM1196.41 538.11h2.04v2.04h-2.04zM1198.45 538.11h2.04v2.04h-2.04zM1202.53 538.11h2.04v2.04h-2.04zM1204.57 538.11h2.04v2.04h-2.04zM1210.69 538.11h2.04v2.04h-2.04zM1212.74 538.11h2.04v2.04h-2.04zM1214.78 538.11h2.04v2.04h-2.04zM1218.86 538.11h2.04v2.04h-2.04zM1224.98 538.11h2.04v2.04h-2.04zM1227.02 538.11h2.04v2.04h-2.04zM1157.64 540.15h2.04v2.04h-2.04zM1161.72 540.15h2.04v2.04h-2.04zM1163.76 540.15h2.04v2.04h-2.04zM1165.80 540.15h2.04v2.04h-2.04zM1176.01 540.15h2.04v2.04h-2.04zM1178.05 540.15h2.04v2.04h-2.04zM1180.09 540.15h2.04v2.04h-2.04zM1186.21 540.15h2.04v2.04h-2.04zM1188.25 540.15h2.04v2.04h-2.04zM1190.29 540.15h2.04v2.04h-2.04zM1192.33 540.15h2.04v2.04h-2.04zM1196.41 540.15h2.04v2.04h-2.04zM1208.65 540.15h2.04v2.04h-2.04zM1210.69 540.15h2.04v2.04h-2.04zM1212.74 540.15h2.04v2.04h-2.04zM1216.82 540.15h2.04v2.04h-2.04zM1218.86 540.15h2.04v2.04h-2.04zM1222.94 540.15h2.04v2.04h-2.04zM1224.98 540.15h2.04v2.04h-2.04zM1227.02 540.15h2.04v2.04h-2.04zM1155.60 542.19h2.04v2.04h-2.04zM1163.76 542.19h2.04v2.04h-2.04zM1165.80 542.19h2.04v2.04h-2.04zM1167.84 542.19h2.04v2.04h-2.04zM1169.88 542.19h2.04v2.04h-2.04zM1173.96 542.19h2.04v2.04h-2.04zM1176.01 542.19h2.04v2.04h-2.04zM1178.05 542.19h2.04v2.04h-2.04zM1190.29 542.19h2.04v2.04h-2.04zM1194.37 542.19h2.04v2.04h-2.04zM1198.45 542.19h2.04v2.04h-2.04zM1202.53 542.19h2.04v2.04h-2.04zM1204.57 542.19h2.04v2.04h-2.04zM1206.61 542.19h2.04v2.04h-2.04zM1208.65 542.19h2.04v2.04h-2.04zM1214.78 542.19h2.04v2.04h-2.04zM1216.82 542.19h2.04v2.04h-2.04zM1222.94 542.19h2.04v2.04h-2.04zM1155.60 544.23h2.04v2.04h-2.04zM1157.64 544.23h2.04v2.04h-2.04zM1165.80 544.23h2.04v2.04h-2.04zM1169.88 544.23h2.04v2.04h-2.04zM1171.92 544.23h2.04v2.04h-2.04zM1180.09 544.23h2.04v2.04h-2.04zM1184.17 544.23h2.04v2.04h-2.04zM1186.21 544.23h2.04v2.04h-2.04zM1192.33 544.23h2.04v2.04h-2.04zM1198.45 544.23h2.04v2.04h-2.04zM1200.49 544.23h2.04v2.04h-2.04zM1202.53 544.23h2.04v2.04h-2.04zM1204.57 544.23h2.04v2.04h-2.04zM1206.61 544.23h2.04v2.04h-2.04zM1212.74 544.23h2.04v2.04h-2.04zM1214.78 544.23h2.04v2.04h-2.04zM1216.82 544.23h2.04v2.04h-2.04zM1220.90 544.23h2.04v2.04h-2.04zM1222.94 544.23h2.04v2.04h-2.04zM1224.98 544.23h2.04v2.04h-2.04zM1155.60 546.27h2.04v2.04h-2.04zM1157.64 546.27h2.04v2.04h-2.04zM1159.68 546.27h2.04v2.04h-2.04zM1165.80 546.27h2.04v2.04h-2.04zM1167.84 546.27h2.04v2.04h-2.04zM1171.92 546.27h2.04v2.04h-2.04zM1173.96 546.27h2.04v2.04h-2.04zM1176.01 546.27h2.04v2.04h-2.04zM1180.09 546.27h2.04v2.04h-2.04zM1184.17 546.27h2.04v2.04h-2.04zM1186.21 546.27h2.04v2.04h-2.04zM1192.33 546.27h2.04v2.04h-2.04zM1194.37 546.27h2.04v2.04h-2.04zM1198.45 546.27h2.04v2.04h-2.04zM1200.49 546.27h2.04v2.04h-2.04zM1204.57 546.27h2.04v2.04h-2.04zM1208.65 546.27h2.04v2.04h-2.04zM1212.74 546.27h2.04v2.04h-2.04zM1214.78 546.27h2.04v2.04h-2.04zM1216.82 546.27h2.04v2.04h-2.04zM1224.98 546.27h2.04v2.04h-2.04zM1229.06 546.27h2.04v2.04h-2.04zM1157.64 548.31h2.04v2.04h-2.04zM1159.68 548.31h2.04v2.04h-2.04zM1165.80 548.31h2.04v2.04h-2.04zM1173.96 548.31h2.04v2.04h-2.04zM1176.01 548.31h2.04v2.04h-2.04zM1182.13 548.31h2.04v2.04h-2.04zM1184.17 548.31h2.04v2.04h-2.04zM1188.25 548.31h2.04v2.04h-2.04zM1196.41 548.31h2.04v2.04h-2.04zM1200.49 548.31h2.04v2.04h-2.04zM1202.53 548.31h2.04v2.04h-2.04zM1208.65 548.31h2.04v2.04h-2.04zM1210.69 548.31h2.04v2.04h-2.04zM1212.74 548.31h2.04v2.04h-2.04zM1216.82 548.31h2.04v2.04h-2.04zM1218.86 548.31h2.04v2.04h-2.04zM1220.90 548.31h2.04v2.04h-2.04zM1227.02 548.31h2.04v2.04h-2.04zM1157.64 550.35h2.04v2.04h-2.04zM1161.72 550.35h2.04v2.04h-2.04zM1167.84 550.35h2.04v2.04h-2.04zM1169.88 550.35h2.04v2.04h-2.04zM1171.92 550.35h2.04v2.04h-2.04zM1176.01 550.35h2.04v2.04h-2.04zM1180.09 550.35h2.04v2.04h-2.04zM1182.13 550.35h2.04v2.04h-2.04zM1184.17 550.35h2.04v2.04h-2.04zM1188.25 550.35h2.04v2.04h-2.04zM1190.29 550.35h2.04v2.04h-2.04zM1196.41 550.35h2.04v2.04h-2.04zM1198.45 550.35h2.04v2.04h-2.04zM1200.49 550.35h2.04v2.04h-2.04zM1202.53 550.35h2.04v2.04h-2.04zM1204.57 550.35h2.04v2.04h-2.04zM1206.61 550.35h2.04v2.04h-2.04zM1208.65 550.35h2.04v2.04h-2.04zM1210.69 550.35h2.04v2.04h-2.04zM1214.78 550.35h2.04v2.04h-2.04zM1218.86 550.35h2.04v2.04h-2.04zM1227.02 550.35h2.04v2.04h-2.04zM1155.60 552.39h2.04v2.04h-2.04zM1159.68 552.39h2.04v2.04h-2.04zM1169.88 552.39h2.04v2.04h-2.04zM1173.96 552.39h2.04v2.04h-2.04zM1180.09 552.39h2.04v2.04h-2.04zM1186.21 552.39h2.04v2.04h-2.04zM1188.25 552.39h2.04v2.04h-2.04zM1192.33 552.39h2.04v2.04h-2.04zM1196.41 552.39h2.04v2.04h-2.04zM1200.49 552.39h2.04v2.04h-2.04zM1206.61 552.39h2.04v2.04h-2.04zM1208.65 552.39h2.04v2.04h-2.04zM1212.74 552.39h2.04v2.04h-2.04zM1214.78 552.39h2.04v2.04h-2.04zM1216.82 552.39h2.04v2.04h-2.04zM1218.86 552.39h2.04v2.04h-2.04zM1227.02 552.39h2.04v2.04h-2.04zM1155.60 554.44h2.04v2.04h-2.04zM1161.72 554.44h2.04v2.04h-2.04zM1167.84 554.44h2.04v2.04h-2.04zM1171.92 554.44h2.04v2.04h-2.04zM1178.05 554.44h2.04v2.04h-2.04zM1182.13 554.44h2.04v2.04h-2.04zM1188.25 554.44h2.04v2.04h-2.04zM1192.33 554.44h2.04v2.04h-2.04zM1194.37 554.44h2.04v2.04h-2.04zM1198.45 554.44h2.04v2.04h-2.04zM1202.53 554.44h2.04v2.04h-2.04zM1212.74 554.44h2.04v2.04h-2.04zM1214.78 554.44h2.04v2.04h-2.04zM1216.82 554.44h2.04v2.04h-2.04zM1218.86 554.44h2.04v2.04h-2.04zM1220.90 554.44h2.04v2.04h-2.04zM1222.94 554.44h2.04v2.04h-2.04zM1229.06 554.44h2.04v2.04h-2.04zM1176.01 556.48h2.04v2.04h-2.04zM1180.09 556.48h2.04v2.04h-2.04zM1182.13 556.48h2.04v2.04h-2.04zM1186.21 556.48h2.04v2.04h-2.04zM1188.25 556.48h2.04v2.04h-2.04zM1190.29 556.48h2.04v2.04h-2.04zM1198.45 556.48h2.04v2.04h-2.04zM1200.49 556.48h2.04v2.04h-2.04zM1202.53 556.48h2.04v2.04h-2.04zM1208.65 556.48h2.04v2.04h-2.04zM1212.74 556.48h2.04v2.04h-2.04zM1220.90 556.48h2.04v2.04h-2.04zM1222.94 556.48h2.04v2.04h-2.04zM1227.02 556.48h2.04v2.04h-2.04zM1229.06 556.48h2.04v2.04h-2.04zM1155.60 558.52h2.04v2.04h-2.04zM1157.64 558.52h2.04v2.04h-2.04zM1159.68 558.52h2.04v2.04h-2.04zM1161.72 558.52h2.04v2.04h-2.04zM1163.76 558.52h2.04v2.04h-2.04zM1165.80 558.52h2.04v2.04h-2.04zM1167.84 558.52h2.04v2.04h-2.04zM1178.05 558.52h2.04v2.04h-2.04zM1180.09 558.52h2.04v2.04h-2.04zM1182.13 558.52h2.04v2.04h-2.04zM1184.17 558.52h2.04v2.04h-2.04zM1192.33 558.52h2.04v2.04h-2.04zM1198.45 558.52h2.04v2.04h-2.04zM1202.53 558.52h2.04v2.04h-2.04zM1204.57 558.52h2.04v2.04h-2.04zM1206.61 558.52h2.04v2.04h-2.04zM1208.65 558.52h2.04v2.04h-2.04zM1210.69 558.52h2.04v2.04h-2.04zM1212.74 558.52h2.04v2.04h-2.04zM1216.82 558.52h2.04v2.04h-2.04zM1220.90 558.52h2.04v2.04h-2.04zM1222.94 558.52h2.04v2.04h-2.04zM1227.02 558.52h2.04v2.04h-2.04zM1155.60 560.56h2.04v2.04h-2.04zM1167.84 560.56h2.04v2.04h-2.04zM1171.92 560.56h2.04v2.04h-2.04zM1180.09 560.56h2.04v2.04h-2.04zM1184.17 560.56h2.04v2.04h-2.04zM1186.21 560.56h2.04v2.04h-2.04zM1198.45 560.56h2.04v2.04h-2.04zM1206.61 560.56h2.04v2.04h-2.04zM1212.74 560.56h2.04v2.04h-2.04zM1220.90 560.56h2.04v2.04h-2.04zM1222.94 560.56h2.04v2.04h-2.04zM1224.98 560.56h2.04v2.04h-2.04zM1227.02 560.56h2.04v2.04h-2.04zM1155.60 562.60h2.04v2.04h-2.04zM1159.68 562.60h2.04v2.04h-2.04zM1161.72 562.60h2.04v2.04h-2.04zM1163.76 562.60h2.04v2.04h-2.04zM1167.84 562.60h2.04v2.04h-2.04zM1171.92 562.60h2.04v2.04h-2.04zM1176.01 562.60h2.04v2.04h-2.04zM1184.17 562.60h2.04v2.04h-2.04zM1192.33 562.60h2.04v2.04h-2.04zM1194.37 562.60h2.04v2.04h-2.04zM1196.41 562.60h2.04v2.04h-2.04zM1198.45 562.60h2.04v2.04h-2.04zM1210.69 562.60h2.04v2.04h-2.04zM1212.74 562.60h2.04v2.04h-2.04zM1214.78 562.60h2.04v2.04h-2.04zM1216.82 562.60h2.04v2.04h-2.04zM1218.86 562.60h2.04v2.04h-2.04zM1220.90 562.60h2.04v2.04h-2.04zM1222.94 562.60h2.04v2.04h-2.04zM1224.98 562.60h2.04v2.04h-2.04zM1227.02 562.60h2.04v2.04h-2.04zM1229.06 562.60h2.04v2.04h-2.04zM1155.60 564.64h2.04v2.04h-2.04zM1159.68 564.64h2.04v2.04h-2.04zM1161.72 564.64h2.04v2.04h-2.04zM1163.76 564.64h2.04v2.04h-2.04zM1167.84 564.64h2.04v2.04h-2.04zM1171.92 564.64h2.04v2.04h-2.04zM1173.96 564.64h2.04v2.04h-2.04zM1178.05 564.64h2.04v2.04h-2.04zM1184.17 564.64h2.04v2.04h-2.04zM1188.25 564.64h2.04v2.04h-2.04zM1192.33 564.64h2.04v2.04h-2.04zM1194.37 564.64h2.04v2.04h-2.04zM1196.41 564.64h2.04v2.04h-2.04zM1202.53 564.64h2.04v2.04h-2.04zM1204.57 564.64h2.04v2.04h-2.04zM1206.61 564.64h2.04v2.04h-2.04zM1210.69 564.64h2.04v2.04h-2.04zM1212.74 564.64h2.04v2.04h-2.04zM1214.78 564.64h2.04v2.04h-2.04zM1218.86 564.64h2.04v2.04h-2.04zM1222.94 564.64h2.04v2.04h-2.04zM1224.98 564.64h2.04v2.04h-2.04zM1229.06 564.64h2.04v2.04h-2.04zM1155.60 566.68h2.04v2.04h-2.04zM1159.68 566.68h2.04v2.04h-2.04zM1161.72 566.68h2.04v2.04h-2.04zM1163.76 566.68h2.04v2.04h-2.04zM1167.84 566.68h2.04v2.04h-2.04zM1171.92 566.68h2.04v2.04h-2.04zM1173.96 566.68h2.04v2.04h-2.04zM1178.05 566.68h2.04v2.04h-2.04zM1182.13 566.68h2.04v2.04h-2.04zM1184.17 566.68h2.04v2.04h-2.04zM1186.21 566.68h2.04v2.04h-2.04zM1192.33 566.68h2.04v2.04h-2.04zM1196.41 566.68h2.04v2.04h-2.04zM1198.45 566.68h2.04v2.04h-2.04zM1208.65 566.68h2.04v2.04h-2.04zM1210.69 566.68h2.04v2.04h-2.04zM1212.74 566.68h2.04v2.04h-2.04zM1220.90 566.68h2.04v2.04h-2.04zM1222.94 566.68h2.04v2.04h-2.04zM1229.06 566.68h2.04v2.04h-2.04zM1155.60 568.72h2.04v2.04h-2.04zM1167.84 568.72h2.04v2.04h-2.04zM1171.92 568.72h2.04v2.04h-2.04zM1173.96 568.72h2.04v2.04h-2.04zM1176.01 568.72h2.04v2.04h-2.04zM1180.09 568.72h2.04v2.04h-2.04zM1182.13 568.72h2.04v2.04h-2.04zM1184.17 568.72h2.04v2.04h-2.04zM1190.29 568.72h2.04v2.04h-2.04zM1194.37 568.72h2.04v2.04h-2.04zM1196.41 568.72h2.04v2.04h-2.04zM1204.57 568.72h2.04v2.04h-2.04zM1206.61 568.72h2.04v2.04h-2.04zM1210.69 568.72h2.04v2.04h-2.04zM1212.74 568.72h2.04v2.04h-2.04zM1214.78 568.72h2.04v2.04h-2.04zM1216.82 568.72h2.04v2.04h-2.04zM1218.86 568.72h2.04v2.04h-2.04zM1229.06 568.72h2.04v2.04h-2.04zM1155.60 570.76h2.04v2.04h-2.04zM1157.64 570.76h2.04v2.04h-2.04zM1159.68 570.76h2.04v2.04h-2.04zM1161.72 570.76h2.04v2.04h-2.04zM1163.76 570.76h2.04v2.04h-2.04zM1165.80 570.76h2.04v2.04h-2.04zM1167.84 570.76h2.04v2.04h-2.04zM1171.92 570.76h2.04v2.04h-2.04zM1173.96 570.76h2.04v2.04h-2.04zM1190.29 570.76h2.04v2.04h-2.04zM1192.33 570.76h2.04v2.04h-2.04zM1196.41 570.76h2.04v2.04h-2.04zM1198.45 570.76h2.04v2.04h-2.04zM1206.61 570.76h2.04v2.04h-2.04zM1208.65 570.76h2.04v2.04h-2.04zM1210.69 570.76h2.04v2.04h-2.04zM1214.78 570.76h2.04v2.04h-2.04zM1220.90 570.76h2.04v2.04h-2.04zM1227.02 570.76h2.04v2.04h-2.04zM1229.06 570.76h2.04v2.04h-2.04z" fill="#161630"/>
<rect x="1182.5" y="524.2" width="21.8" height="21.8" rx="2" fill="#d8ccff"/>
<rect x="1184.3" y="525.9" width="18.2" height="18.4" rx="3" fill="#1c1c28"/>
<text x="1193.4" y="537.2" text-anchor="middle" font-size="4.6" font-weight="bold" fill="#e8e0c0">BYBIT</text>
<line x1="1235.4" y1="18.4" x2="1235.4" y2="596.6" stroke="#2b3a4a" stroke-width="1"/>
<line x1="7.3" y1="578.0" x2="1273.2" y2="578.0" stroke="#6a6090" stroke-width="1.3"/>
<text x="1241.6" y="54.1" font-size="8.7" fill="#1e2430" stroke="#1e2430" stroke-width="0.12" textLength="20.6" lengthAdjust="spacingAndGlyphs">9.000</text>
<text x="1241.6" y="84.4" font-size="8.7" fill="#1e2430" stroke="#1e2430" stroke-width="0.12" textLength="20.6" lengthAdjust="spacingAndGlyphs">8.000</text>
<text x="1241.6" y="118.8" font-size="8.7" fill="#1e2430" stroke="#1e2430" stroke-width="0.12" textLength="20.6" lengthAdjust="spacingAndGlyphs">7.000</text>
<text x="1241.6" y="158.5" font-size="8.7" fill="#1e2430" stroke="#1e2430" stroke-width="0.12" textLength="20.6" lengthAdjust="spacingAndGlyphs">6.000</text>
<text x="1241.6" y="185.6" font-size="8.7" fill="#1e2430" stroke="#1e2430" stroke-width="0.12" textLength="20.6" lengthAdjust="spacingAndGlyphs">5.400</text>
<text x="1241.6" y="215.9" font-size="8.7" fill="#1e2430" stroke="#1e2430" stroke-width="0.12" textLength="20.6" lengthAdjust="spacingAndGlyphs">4.800</text>
<text x="1241.6" y="238.3" font-size="8.7" fill="#1e2430" stroke="#1e2430" stroke-width="0.12" textLength="20.6" lengthAdjust="spacingAndGlyphs">4.400</text>
<text x="1241.6" y="262.8" font-size="8.7" fill="#1e2430" stroke="#1e2430" stroke-width="0.12" textLength="20.6" lengthAdjust="spacingAndGlyphs">4.000</text>
<text x="1241.6" y="290.0" font-size="8.7" fill="#1e2430" stroke="#1e2430" stroke-width="0.12" textLength="20.6" lengthAdjust="spacingAndGlyphs">3.600</text>
<text x="1241.6" y="312.3" font-size="8.7" fill="#1e2430" stroke="#1e2430" stroke-width="0.12" textLength="20.6" lengthAdjust="spacingAndGlyphs">3.300</text>
<text x="1241.6" y="336.9" font-size="8.7" fill="#1e2430" stroke="#1e2430" stroke-width="0.12" textLength="20.6" lengthAdjust="spacingAndGlyphs">3.000</text>
<text x="1241.6" y="364.0" font-size="8.7" fill="#1e2430" stroke="#1e2430" stroke-width="0.12" textLength="20.6" lengthAdjust="spacingAndGlyphs">2.700</text>
<text x="1241.6" y="394.3" font-size="8.7" fill="#1e2430" stroke="#1e2430" stroke-width="0.12" textLength="20.6" lengthAdjust="spacingAndGlyphs">2.400</text>
<text x="1241.6" y="416.7" font-size="8.7" fill="#1e2430" stroke="#1e2430" stroke-width="0.12" textLength="20.6" lengthAdjust="spacingAndGlyphs">2.200</text>
<text x="1241.6" y="441.2" font-size="8.7" fill="#1e2430" stroke="#1e2430" stroke-width="0.12" textLength="20.6" lengthAdjust="spacingAndGlyphs">2.000</text>
<text x="1241.6" y="468.4" font-size="8.7" fill="#1e2430" stroke="#1e2430" stroke-width="0.12" textLength="20.6" lengthAdjust="spacingAndGlyphs">1.800</text>
<text x="1241.6" y="490.8" font-size="8.7" fill="#1e2430" stroke="#1e2430" stroke-width="0.12" textLength="20.6" lengthAdjust="spacingAndGlyphs">1.650</text>
<text x="1241.6" y="513.6" font-size="8.7" fill="#1e2430" stroke="#1e2430" stroke-width="0.12" textLength="20.6" lengthAdjust="spacingAndGlyphs">1.510</text>
<text x="1241.6" y="534.9" font-size="8.7" fill="#1e2430" stroke="#1e2430" stroke-width="0.12" textLength="20.6" lengthAdjust="spacingAndGlyphs">1.390</text>
<text x="1241.6" y="556.1" font-size="8.7" fill="#1e2430" stroke="#1e2430" stroke-width="0.12" textLength="20.6" lengthAdjust="spacingAndGlyphs">1.280</text>
<text x="1241.6" y="577.1" font-size="8.7" fill="#1e2430" stroke="#1e2430" stroke-width="0.12" textLength="20.6" lengthAdjust="spacingAndGlyphs">1.180</text>
<rect x="1238.2" y="22.4" width="31.8" height="15.9" rx="2.5" fill="#f4fbff"/>
<text x="1245.0" y="34.2" font-size="8.7" fill="#1e2430" stroke="#1e2430" stroke-width="0.12" textLength="18.3" lengthAdjust="spacingAndGlyphs">USDT</text>
<rect x="1235.5" y="414.9" width="34.5" height="20.5" rx="1.5" fill="#3300d6"/>
<text x="1241.8" y="424.0" font-size="8.8" font-weight="bold" fill="#fff" textLength="20.5" lengthAdjust="spacingAndGlyphs">2.148</text>
<text x="1241.8" y="433.3" font-size="8.8" font-weight="bold" fill="#fff" textLength="24.6" lengthAdjust="spacingAndGlyphs">3d 11h</text>
<text x="60.0" y="590.3" font-size="8.6" fill="#2a3040" stroke="#2a3040" stroke-width="0.15" textLength="13.6" lengthAdjust="spacingAndGlyphs">Nov</text>
<text x="116.0" y="590.3" font-size="8.6" font-weight="bold" fill="#1e2430" textLength="19.6" lengthAdjust="spacingAndGlyphs">2024</text>
<text x="185.0" y="590.3" font-size="8.6" fill="#2a3040" stroke="#2a3040" stroke-width="0.15" textLength="13.6" lengthAdjust="spacingAndGlyphs">Mar</text>
<text x="250.8" y="590.3" font-size="8.6" fill="#2a3040" stroke="#2a3040" stroke-width="0.15" textLength="14.4" lengthAdjust="spacingAndGlyphs">May</text>
<text x="311.8" y="590.3" font-size="8.6" fill="#2a3040" stroke="#2a3040" stroke-width="0.15" textLength="10.4" lengthAdjust="spacingAndGlyphs">Jul</text>
<text x="376.3" y="590.3" font-size="8.6" fill="#2a3040" stroke="#2a3040" stroke-width="0.15" textLength="13.4" lengthAdjust="spacingAndGlyphs">Sep</text>
<text x="442.7" y="590.3" font-size="8.6" fill="#2a3040" stroke="#2a3040" stroke-width="0.15" textLength="13.6" lengthAdjust="spacingAndGlyphs">Nov</text>
<text x="506.5" y="590.3" font-size="8.6" font-weight="bold" fill="#1e2430" textLength="19.6" lengthAdjust="spacingAndGlyphs">2025</text>
<text x="568.2" y="590.3" font-size="8.6" fill="#2a3040" stroke="#2a3040" stroke-width="0.15" textLength="13.6" lengthAdjust="spacingAndGlyphs">Mar</text>
<text x="634.1" y="590.3" font-size="8.6" fill="#2a3040" stroke="#2a3040" stroke-width="0.15" textLength="14.4" lengthAdjust="spacingAndGlyphs">May</text>
<text x="702.3" y="590.3" font-size="8.6" fill="#2a3040" stroke="#2a3040" stroke-width="0.15" textLength="10.4" lengthAdjust="spacingAndGlyphs">Jul</text>
<text x="759.6" y="590.3" font-size="8.6" fill="#2a3040" stroke="#2a3040" stroke-width="0.15" textLength="13.4" lengthAdjust="spacingAndGlyphs">Sep</text>
<text x="825.7" y="590.3" font-size="8.6" fill="#2a3040" stroke="#2a3040" stroke-width="0.15" textLength="13.6" lengthAdjust="spacingAndGlyphs">Nov</text>
<text x="889.0" y="590.3" font-size="8.6" font-weight="bold" fill="#1e2430" textLength="19.6" lengthAdjust="spacingAndGlyphs">2026</text>
<text x="950.7" y="590.3" font-size="8.6" fill="#2a3040" stroke="#2a3040" stroke-width="0.15" textLength="13.6" lengthAdjust="spacingAndGlyphs">Mar</text>
<text x="1016.6" y="590.3" font-size="8.6" fill="#2a3040" stroke="#2a3040" stroke-width="0.15" textLength="14.4" lengthAdjust="spacingAndGlyphs">May</text>
<text x="1084.8" y="590.3" font-size="8.6" fill="#2a3040" stroke="#2a3040" stroke-width="0.15" textLength="10.4" lengthAdjust="spacingAndGlyphs">Jul</text>
<text x="1149.6" y="590.3" font-size="8.6" fill="#2a3040" stroke="#2a3040" stroke-width="0.15" textLength="13.4" lengthAdjust="spacingAndGlyphs">Sep</text>
<text x="1208.7" y="590.3" font-size="8.6" fill="#2a3040" stroke="#2a3040" stroke-width="0.15" textLength="13.6" lengthAdjust="spacingAndGlyphs">Nov</text>
<text x="12.75" y="31.7" font-size="8.3" stroke-width="0.28" fill="#1f3030" stroke="#1f3030" textLength="46.85" lengthAdjust="spacingAndGlyphs">PENDLEUSDT</text>
<text x="69.5" y="31.7" font-size="8.3" stroke-width="0.28" fill="#1f3030" stroke="#1f3030" textLength="9.80" lengthAdjust="spacingAndGlyphs">1W</text>
<text x="88.4" y="31.7" font-size="8.3" stroke-width="0.28" fill="#1f3030" stroke="#1f3030" textLength="28.90" lengthAdjust="spacingAndGlyphs">Binance</text>
<rect x="63.9" y="28.3" width="1.4" height="1.4" fill="#1f3030"/>
<rect x="82.9" y="28.5" width="2.2" height="1.1" fill="#1f3030"/>
<text x="122.5" y="31.7" font-size="8.3" stroke-width="0.28" textLength="25.6" lengthAdjust="spacingAndGlyphs"><tspan fill="#1f2e2e" stroke="#1f2e2e">O</tspan><tspan fill="#3a2ad0" stroke="#3a2ad0">1.975</tspan></text>
<text x="153.9" y="31.7" font-size="8.3" stroke-width="0.28" textLength="25.9" lengthAdjust="spacingAndGlyphs"><tspan fill="#1f2e2e" stroke="#1f2e2e">H</tspan><tspan fill="#3a2ad0" stroke="#3a2ad0">2.235</tspan></text>
<text x="185.3" y="31.7" font-size="8.3" stroke-width="0.28" textLength="24.5" lengthAdjust="spacingAndGlyphs"><tspan fill="#1f2e2e" stroke="#1f2e2e">L</tspan><tspan fill="#3a2ad0" stroke="#3a2ad0">1.780</tspan></text>
<text x="214.7" y="31.7" font-size="8.3" stroke-width="0.28" textLength="25.3" lengthAdjust="spacingAndGlyphs"><tspan fill="#1f2e2e" stroke="#1f2e2e">C</tspan><tspan fill="#3a2ad0" stroke="#3a2ad0">2.148</tspan></text>
<text x="246" y="31.7" font-size="8.3" stroke-width="0.28" fill="#3a2ad0" stroke="#3a2ad0" textLength="58.1" lengthAdjust="spacingAndGlyphs">+0.172 (+8.70%)</text>
</svg></body></html>
